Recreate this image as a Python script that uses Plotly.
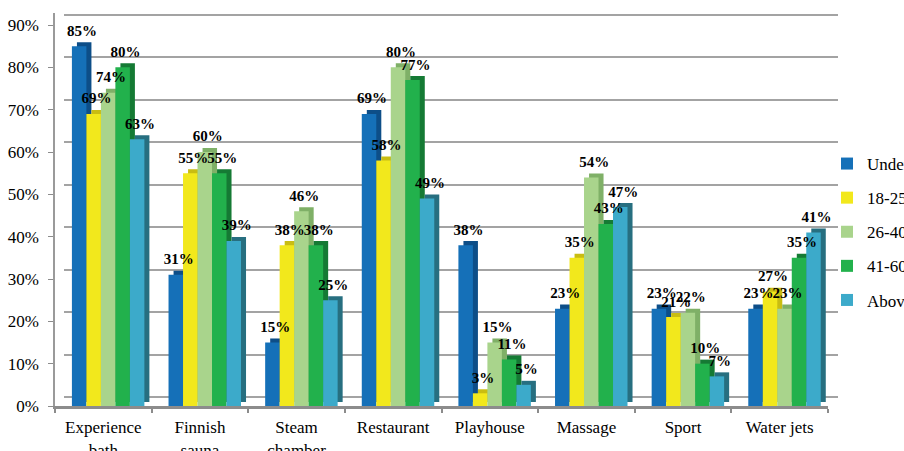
import plotly.graph_objects as go

categories = ["Experience<br>bath", "Finnish<br>sauna", "Steam<br>chamber", "Restaurant",
              "Playhouse", "Massage", "Sport", "Water jets"]
series_names = ["Under 18", "18-25", "26-40", "41-60", "Above 60"]
under18 = [85, 31, 15, 69, 38, 23, 23, 23]
age18_25 = [69, 55, 38, 58, 3, 35, 21, 27]
age26_40 = [74, 60, 46, 80, 15, 54, 22, 23]
age41_60 = [80, 55, 38, 77, 11, 43, 10, 35]
above60 = [63, 39, 25, 49, 5, 47, 7, 41]
series_values = [under18, age18_25, age26_40, age41_60, above60]
y_ticks = [0, 10, 20, 30, 40, 50, 60, 70, 80, 90]
y_ticktext = [f"{t}%" for t in y_ticks]

front_colors = ["#1570b8", "#f2e81c", "#a9d48c", "#22b14c", "#3caaca"]
side_colors = ["#0d4e88", "#c9bd12", "#7fb067", "#157a34", "#276f80"]

W, H = 904, 451
FONT = "Liberation Serif"

bar_w = 0.15
group_shift = 0.05
depth_x = 0.052
depth_y = 0.95

fig = go.Figure()
# invisible trace to create the back-wall subplot
fig.add_trace(go.Scatter(x=[None], y=[None], xaxis="x", yaxis="y", showlegend=False,
                         hoverinfo="skip", mode="markers"))

cat_idx = list(range(len(categories)))
for j, (name, vals) in enumerate(zip(series_names, series_values)):
    centers = [i + (j - 2) * bar_w + group_shift for i in cat_idx]
    fig.add_trace(go.Bar(
        x=[c + depth_x for c in centers], y=vals, base=depth_y, width=bar_w,
        marker=dict(color=side_colors[j], line=dict(width=0)),
        xaxis="x2", yaxis="y2", showlegend=False, hoverinfo="skip"))
    fig.add_trace(go.Bar(
        x=centers, y=vals, width=bar_w, name=name,
        marker=dict(color=front_colors[j], line=dict(width=0)),
        xaxis="x2", yaxis="y2", legendgroup=name))

for j, vals in enumerate(series_values):
    centers = [i + (j - 2) * bar_w + group_shift + 0.03 for i in cat_idx]
    fig.add_trace(go.Scatter(
        x=centers, y=[v + 1.6 for v in vals], mode="text",
        text=[f"<b>{v}%</b>" for v in vals], textposition="top center",
        textfont=dict(family=FONT, size=15, color="black"),
        xaxis="x2", yaxis="y2", showlegend=False, hoverinfo="skip", cliponaxis=False))

x_front = [55 / W, 828 / W]
x_back = [64 / W, 838 / W]
y_dom = [(H - 406) / H, (H - 13) / H]

fig.update_layout(
    template="none",
    width=W, height=H,
    margin=dict(l=0, r=0, t=0, b=0, autoexpand=False),
    paper_bgcolor="white", plot_bgcolor="rgba(0,0,0,0)",
    barmode="overlay",
    font=dict(family=FONT, size=17, color="black"),
    xaxis=dict(domain=x_back, range=[-0.5, 7.5], anchor="y", visible=False),
    yaxis=dict(domain=y_dom, range=[-2.12, 90.47], anchor="x", tickmode="array",
               tickvals=y_ticks, showticklabels=False, showgrid=True,
               gridcolor="#a3a3a3", gridwidth=2, zeroline=False, showline=False, ticks=""),
    xaxis2=dict(domain=x_front, range=[-0.5, 7.5], anchor="y2", tickmode="array",
                tickvals=cat_idx, ticktext=categories, ticks="", showgrid=False,
                zeroline=False, showline=True, linecolor="#8c8c8c", linewidth=3,
                ticklabelstandoff=4,
                tickfont=dict(family=FONT, size=17, color="black"),
                minor=dict(tickmode="array", tickvals=[i - 0.5 for i in range(len(categories) + 1)],
                           ticks="outside", ticklen=4, tickcolor="#8c8c8c", tickwidth=1.5,
                           showgrid=False)),
    yaxis2=dict(domain=y_dom, range=[0, 92.84], anchor="x2", tickmode="array",
                tickvals=y_ticks, ticktext=y_ticktext, ticks="outside", ticklen=5,
                tickcolor="#8c8c8c", showgrid=False, zeroline=False, showline=True,
                linecolor="#9a9a9a", linewidth=1.5, ticklabelstandoff=6,
                tickfont=dict(family=FONT, size=17, color="black")),
    legend=dict(x=827 / W, xanchor="left", y=(H - 146) / H, yanchor="top",
                font=dict(family=FONT, size=17, color="black"),
                tracegroupgap=9, bgcolor="rgba(0,0,0,0)"),
    showlegend=True,
)

fig.write_html("out.html")
